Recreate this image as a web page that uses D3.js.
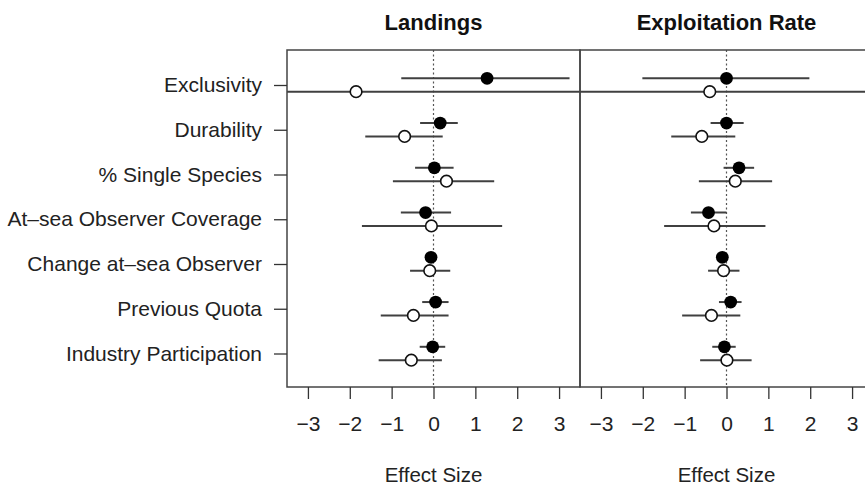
<!DOCTYPE html>
<meta charset="utf-8">
<style>
    body {
        margin: 0;
        background: #fff;
        font-family: "Liberation Sans", Arial, sans-serif;
    }
</style>
<svg width="865" height="488"></svg>
<script src="https://d3js.org/d3.v7.min.js"></script>
<script>
    // rows, top to bottom
    var categories = ["Exclusivity", "Durability", "% Single Species", "At\u2013sea Observer Coverage",
        "Change at\u2013sea Observer", "Previous Quota", "Industry Participation"];

    var xTicks = [-3, -2, -1, 0, 1, 2, 3];

    // Landings: filled series (estimate, lower, upper)
    var landFilled = [1.28, 0.16, 0.02, -0.19, -0.06, 0.05, -0.02];
    var landFilledLo = [-0.77, -0.32, -0.44, -0.78, -0.18, -0.27, -0.33];
    var landFilledHi = [3.25, 0.58, 0.48, 0.42, 0.08, 0.36, 0.28];
    // Landings: open series
    var landOpen = [-1.85, -0.69, 0.31, -0.05, -0.09, -0.48, -0.53];
    var landOpenLo = [-4.8, -1.63, -0.97, -1.71, -0.56, -1.26, -1.31];
    var landOpenHi = [4.9, 0.22, 1.45, 1.64, 0.40, 0.36, 0.20];

    // Exploitation rate: filled series
    var explFilled = [0.0, 0.0, 0.30, -0.43, -0.10, 0.10, -0.05];
    var explFilledLo = [-2.01, -0.38, -0.07, -0.85, -0.20, -0.18, -0.34];
    var explFilledHi = [1.98, 0.41, 0.66, 0.0, 0.02, 0.36, 0.22];
    // Exploitation rate: open series
    var explOpen = [-0.40, -0.59, 0.21, -0.30, -0.07, -0.36, 0.01];
    var explOpenLo = [-4.9, -1.32, -0.66, -1.49, -0.44, -1.06, -0.63];
    var explOpenHi = [4.8, 0.21, 1.09, 0.93, 0.31, 0.33, 0.60];

    var svg = d3.select("svg");
    var plotTop = 50, plotBottom = 387;
    var fontSize = 21;

    var y = d3.scalePoint().domain(categories).range([85, 353.5]);
    var off = 6.7;

    function series(est, lo, hi) {
        return categories.map(function (c, i) {
            return { cat: c, est: est[i], lo: lo[i], hi: hi[i] };
        });
    }

    var panels = [
        { title: "Landings", left: 287, right: 580, filled: series(landFilled, landFilledLo, landFilledHi), open: series(landOpen, landOpenLo, landOpenHi) },
        { title: "Exploitation Rate", left: 580, right: 873, filled: series(explFilled, explFilledLo, explFilledHi), open: series(explOpen, explOpenLo, explOpenHi) }
    ];

    panels.forEach(function (p, k) {
        var x = d3.scaleLinear().domain([-3.5, 3.5]).range([p.left, p.right]);
        var g = svg.append("g");

        svg.append("clipPath").attr("id", "clip" + k)
            .append("rect")
            .attr("x", p.left).attr("y", plotTop)
            .attr("width", p.right - p.left).attr("height", plotBottom - plotTop);

        var plot = g.append("g").attr("clip-path", "url(#clip" + k + ")");

        // zero reference
        plot.append("line")
            .attr("x1", x(0)).attr("x2", x(0))
            .attr("y1", plotTop).attr("y2", plotBottom)
            .style("stroke", "#555")
            .style("stroke-width", 1.2)
            .style("stroke-dasharray", "2,2.5");

        [["filled", -off], ["open", off]].forEach(function (s) {
            var data = p[s[0]], dy = s[1];
            plot.selectAll("line.ci-" + s[0])
                .data(data)
                .enter().append("line")
                .attr("class", "ci-" + s[0])
                .attr("x1", function (d) { return x(d.lo); })
                .attr("x2", function (d) { return x(d.hi); })
                .attr("y1", function (d) { return y(d.cat) + dy; })
                .attr("y2", function (d) { return y(d.cat) + dy; })
                .style("stroke", "#404040")
                .style("stroke-width", 2);
        });

        plot.selectAll("circle.filled")
            .data(p.filled)
            .enter().append("circle")
            .attr("class", "filled")
            .attr("cx", function (d) { return x(d.est); })
            .attr("cy", function (d) { return y(d.cat) - off; })
            .attr("r", 6.4)
            .style("fill", "#000");

        plot.selectAll("circle.open")
            .data(p.open)
            .enter().append("circle")
            .attr("class", "open")
            .attr("cx", function (d) { return x(d.est); })
            .attr("cy", function (d) { return y(d.cat) + off; })
            .attr("r", 5.8)
            .style("fill", "#fff")
            .style("stroke", "#111")
            .style("stroke-width", 1.6);

        // frame
        g.append("rect")
            .attr("x", p.left).attr("y", plotTop)
            .attr("width", p.right - p.left).attr("height", plotBottom - plotTop)
            .style("fill", "none")
            .style("stroke", "#444")
            .style("stroke-width", 1.5);

        // bottom axis
        var ax = g.append("g")
            .attr("transform", "translate(0," + plotBottom + ")")
            .call(d3.axisBottom(x).tickValues(xTicks).tickSize(12).tickPadding(17)
                .tickFormat(function (d) { return d < 0 ? "\u2212" + Math.abs(d) : d; }));
        ax.select(".domain").remove();
        ax.selectAll("line").style("stroke", "#333").style("stroke-width", 1.3);
        ax.selectAll("text")
            .style("font-family", "Liberation Sans, Arial, sans-serif")
            .style("font-size", fontSize + "px")
            .style("fill", "#222");

        g.append("text")
            .attr("x", x(0)).attr("y", 482)
            .attr("text-anchor", "middle")
            .style("font-size", "20.5px")
            .style("fill", "#222")
            .text("Effect Size");

        g.append("text")
            .attr("x", x(0)).attr("y", 30)
            .attr("text-anchor", "middle")
            .style("font-size", "22px")
            .style("font-weight", "bold")
            .style("fill", "#111")
            .text(p.title);
    });

    // row labels on the left panel
    var ay = svg.append("g")
        .attr("transform", "translate(287,0)")
        .call(d3.axisLeft(y).tickSize(13).tickPadding(12));
    ay.select(".domain").remove();
    ay.selectAll("line").style("stroke", "#333").style("stroke-width", 1.3);
    ay.selectAll("text")
        .style("font-family", "Liberation Sans, Arial, sans-serif")
        .style("font-size", fontSize + "px")
        .style("fill", "#222");
</script>
